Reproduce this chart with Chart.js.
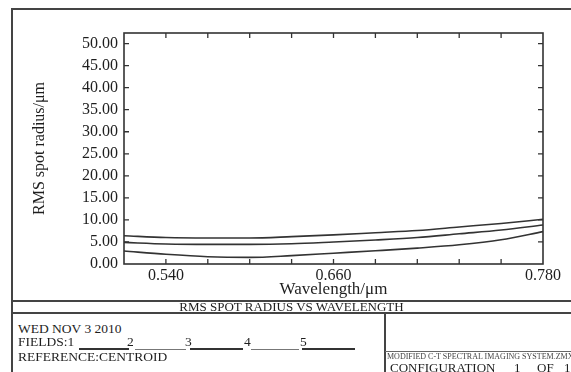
<!DOCTYPE html>
<html>
<head>
<meta charset="utf-8">
<script src="https://cdn.jsdelivr.net/npm/chart.js@4/dist/chart.umd.min.js"></script>
<style>
  html, body { margin: 0; padding: 0; background: #fff; }
  body { width: 571px; height: 372px; position: relative; overflow: hidden; font-family: "Liberation Serif", "DejaVu Serif", serif; color: #1e1e1e; }
  #chartbox { position: absolute; left: 0; top: 0; width: 571px; height: 300px; }
  .ln { position: absolute; background: #444; }
  .tx { position: absolute; white-space: nowrap; line-height: 14px; }
</style>
</head>
<body>
<div id="chartbox"><canvas id="c" width="571" height="300"></canvas></div>

<!-- frame -->
<div class="ln" style="left:11px;top:8px;width:2px;height:364px;"></div>
<div class="ln" style="left:11px;top:8px;width:560px;height:2px;"></div>
<div class="ln" style="left:11px;top:300px;width:560px;height:2px;"></div>
<div class="ln" style="left:11px;top:312px;width:560px;height:2px;"></div>
<div class="ln" style="left:384px;top:313px;width:2px;height:59px;"></div>
<div class="ln" style="left:385px;top:351px;width:186px;height:1px;background:#666;"></div>

<div class="tx" style="left:12px;width:559px;top:300px;text-align:center;font-size:13px;">RMS SPOT RADIUS VS WAVELENGTH</div>

<div class="tx" style="left:18px;top:322px;font-size:13.5px;">WED NOV 3 2010</div>
<div class="tx" style="left:18px;top:335px;font-size:13.5px;">FIELDS:1</div>
<div class="tx" style="left:127px;top:335px;font-size:13.5px;">2</div>
<div class="tx" style="left:185px;top:335px;font-size:13.5px;">3</div>
<div class="tx" style="left:244px;top:335px;font-size:13.5px;">4</div>
<div class="tx" style="left:300px;top:335px;font-size:13.5px;">5</div>
<div class="ln" style="left:79px;top:348px;width:50px;height:2px;background:#333;"></div>
<div class="ln" style="left:135px;top:349px;width:51px;height:1px;background:#777;"></div>
<div class="ln" style="left:190px;top:348px;width:53px;height:2px;background:#333;"></div>
<div class="ln" style="left:251px;top:349px;width:48px;height:1px;background:#777;"></div>
<div class="ln" style="left:302px;top:348px;width:53px;height:2px;background:#333;"></div>
<div class="tx" style="left:18px;top:350px;font-size:13.5px;">REFERENCE:CENTROID</div>

<div class="tx" style="left:387px;top:351px;font-size:8px;line-height:12px;color:#444;">MODIFIED C-T SPECTRAL IMAGING SYSTEM.ZMX</div>
<div class="tx" style="left:390px;top:361px;font-size:13px;">CONFIGURATION</div>
<div class="tx" style="left:514px;top:361px;font-size:13px;">1</div>
<div class="tx" style="left:537px;top:361px;font-size:13px;">OF</div>
<div class="tx" style="left:564px;top:361px;font-size:13px;">1</div>

<script>
// ---- data ----
const wavelengths = [0.540, 0.564, 0.588, 0.612, 0.636, 0.660, 0.684, 0.708, 0.732, 0.756, 0.780];
const field1 = [6.4, 6.0, 5.9, 5.9, 6.2, 6.6, 7.1, 7.6, 8.4, 9.2, 10.15];
const field2 = [4.9, 4.55, 4.45, 4.45, 4.6, 5.0, 5.45, 6.0, 6.85, 7.7, 8.85];
const field3 = [2.95, 2.2, 1.65, 1.5, 1.9, 2.45, 3.0, 3.6, 4.35, 5.5, 7.35];
const xTickLabels = ['0.540', '0.660', '0.780'];
const yMin = 0, yMax = 52.4, yStep = 5;

const toPts = arr => arr.map((v, i) => ({ x: wavelengths[i], y: v }));
const lineStyle = { borderColor: '#333', borderWidth: 1.6, pointRadius: 0, fill: false, cubicInterpolationMode: 'monotone' };

const frameTicks = {
  id: 'frameTicks',
  afterDraw(chart) {
    const { ctx, chartArea: a, scales } = chart;
    ctx.save();
    ctx.strokeStyle = '#333';
    ctx.lineWidth = 1.6;
    ctx.strokeRect(a.left, a.top, a.right - a.left, a.bottom - a.top);
    ctx.lineWidth = 1.3;
    const L = 5;
    ctx.beginPath();
    scales.x.ticks.forEach(t => {
      const px = scales.x.getPixelForValue(t.value);
      if (px <= a.left + 1 || px >= a.right - 1) return;
      ctx.moveTo(px, a.bottom); ctx.lineTo(px, a.bottom - L);
      ctx.moveTo(px, a.top); ctx.lineTo(px, a.top + L);
    });
    scales.y.ticks.forEach(t => {
      const py = scales.y.getPixelForValue(t.value);
      if (py >= a.bottom - 1 || py <= a.top + 1) return;
      ctx.moveTo(a.left, py); ctx.lineTo(a.left + L, py);
      ctx.moveTo(a.right, py); ctx.lineTo(a.right - L, py);
    });
    ctx.stroke();
    ctx.restore();
  }
};

new Chart(document.getElementById('c'), {
  type: 'line',
  data: {
    datasets: [
      Object.assign({ label: 'Field 1', data: toPts(field1) }, lineStyle),
      Object.assign({ label: 'Field 2', data: toPts(field2) }, lineStyle),
      Object.assign({ label: 'Field 3', data: toPts(field3) }, lineStyle)
    ]
  },
  options: {
    responsive: false,
    devicePixelRatio: 1,
    animation: false,
    events: [],
    layout: { padding: { left: 0, top: 33, right: 28, bottom: 0 } },
    plugins: { legend: { display: false }, tooltip: { enabled: false } },
    scales: {
      x: {
        type: 'linear',
        min: wavelengths[0],
        max: wavelengths[wavelengths.length - 1],
        afterBuildTicks: s => { s.ticks = wavelengths.map(v => ({ value: v })); },
        afterFit: s => { s.height = 36; },
        grid: { display: false, drawTicks: false },
        border: { display: false },
        ticks: {
          autoSkip: false, maxRotation: 0, padding: 2, color: '#1e1e1e',
          font: { family: 'Liberation Serif', size: 16 },
          callback: (v, i) => i === 1 ? xTickLabels[0] : i === 5 ? xTickLabels[1] : i === 10 ? xTickLabels[2] : ''
        },
        title: { display: true, text: 'Wavelength/μm', color: '#1e1e1e', font: { family: 'Liberation Serif', size: 17 }, padding: { top: 0, bottom: 0 } }
      },
      y: {
        type: 'linear',
        min: yMin, max: yMax,
        afterFit: s => { s.width = 124; },
        grid: { display: false, drawTicks: false },
        border: { display: false },
        ticks: {
          stepSize: yStep, includeBounds: false, padding: 6, color: '#1e1e1e',
          font: { family: 'Liberation Serif', size: 16 },
          callback: v => Number(v).toFixed(2)
        },
        title: { display: true, text: 'RMS spot radius/μm', color: '#1e1e1e', font: { family: 'Liberation Serif', size: 16 }, padding: { top: 30, bottom: 0 } }
      }
    }
  },
  plugins: [frameTicks]
});
</script>
</body>
</html>
